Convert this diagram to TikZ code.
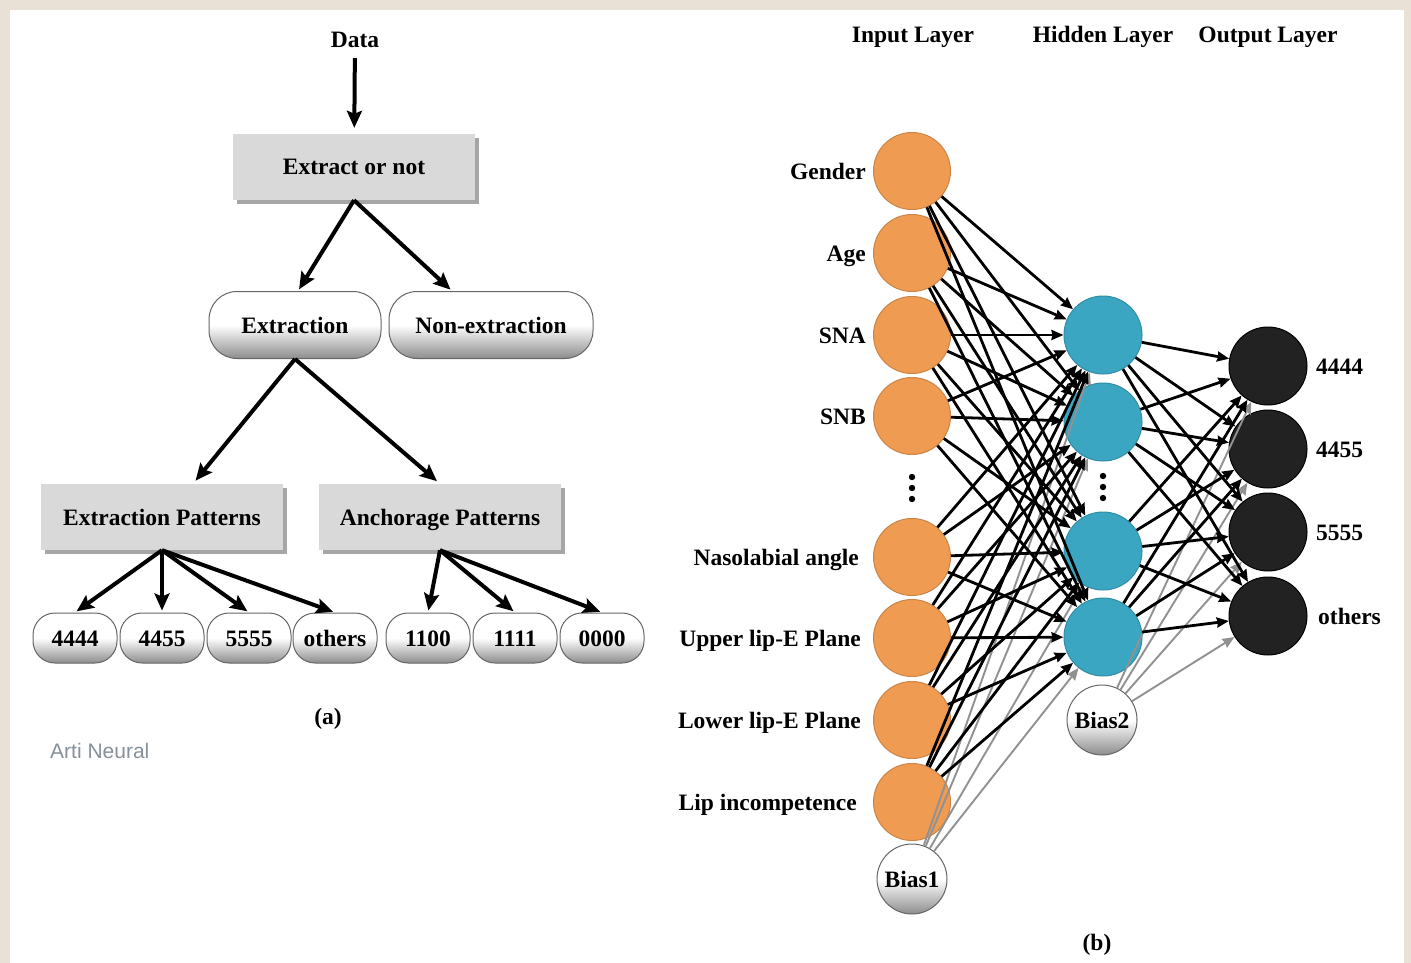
\documentclass[tikz,border=0pt]{standalone}
\usepackage{fontspec}
\setmainfont{Liberation Serif}
\newfontfamily\sansf{Liberation Sans}
\usetikzlibrary{arrows.meta,shadows,calc}
\definecolor{beige}{RGB}{234,225,214}
\definecolor{boxgray}{RGB}{217,217,217}
\definecolor{orng}{RGB}{240,155,82}
\definecolor{tealn}{RGB}{58,166,193}
\definecolor{darkn}{RGB}{34,34,34}
\definecolor{wm}{RGB}{135,145,155}
\definecolor{biasgray}{RGB}{145,145,145}
\tikzset{
  lbl/.style={font=\fontsize{23.5}{26}\selectfont\bfseries, inner sep=0pt, text height=20pt, text depth=4pt},
  graybox/.style={lbl, fill=boxgray, minimum width=242pt, minimum height=66pt,
    drop shadow={shadow xshift=4pt, shadow yshift=-4pt, opacity=0.35, fill=black}},
  pill/.style={lbl, draw=black!60, line width=1pt, rounded corners=28pt, minimum height=67pt,
    top color=white, bottom color=black!45, middle color=white},
  smallpill/.style={pill, rounded corners=22pt, minimum width=84pt, minimum height=50pt},
  bigarrow/.style={line width=4pt, -{Stealth[length=17pt,width=15pt,inset=3pt]}},
  innode/.style={circle, fill=orng, draw=orng!85!black, line width=1pt, minimum size=77pt, inner sep=0pt},
  hidnode/.style={circle, fill=tealn, draw=tealn!85!black, line width=1pt, minimum size=78pt, inner sep=0pt},
  outnode/.style={circle, fill=darkn, draw=black, line width=1pt, minimum size=78pt, inner sep=0pt},
  biasnode/.style={lbl, circle, draw=black!60, line width=1pt, minimum size=70pt,
    top color=white, bottom color=black!45, middle color=white},
  nnarrow/.style={line width=2.8pt, -{Stealth[length=12pt,width=10pt,inset=1pt]}},
  biasarrow/.style={line width=1.9pt, draw=biasgray, -{Stealth[length=12pt,width=10pt,inset=1pt]}, biasgray},
}
\begin{document}
\begin{tikzpicture}[x=1pt,y=-1pt]
\useasboundingbox (0,0) rectangle (1411,963);
\fill[beige] (0,0) rectangle (1411,963);
\fill[white] (10,10) rectangle (1404,963);

% ---------- panel (a) ----------
\node[lbl] (data) at (355,40) {Data};
\node[graybox] (extract) at (354,167) {Extract or not};
\node[pill, minimum width=172pt] (extraction) at (295,325) {Extraction};
\node[pill, minimum width=204pt] (nonext) at (491,325) {Non-extraction};
\node[graybox] (ep) at (162,517) {Extraction Patterns};
\node[graybox] (ap) at (440,517) {Anchorage Patterns};
\node[smallpill] (p1) at (75,638) {4444};
\node[smallpill] (p2) at (162,638) {4455};
\node[smallpill] (p3) at (249,638) {5555};
\node[smallpill] (p4) at (335,638) {others};
\node[smallpill] (p5) at (428,638) {1100};
\node[smallpill] (p6) at (515,638) {1111};
\node[smallpill] (p7) at (602,638) {0000};
\node[lbl] (capa) at (328,716) {(a)};
\node[font=\sansf\fontsize{21}{24}\selectfont, text=wm, inner sep=0pt, anchor=west] (wmark) at (50,751) {Arti Neural};

\draw[bigarrow, shorten <=6pt, shorten >=6pt] (data) -- (extract);
\draw[bigarrow, shorten >=2pt] (extract.south) -- ($(extraction.north)+(3,0)$);
\draw[bigarrow, shorten >=2pt] (extract.south) -- ($(nonext.north)+(-39,0)$);
\draw[bigarrow, shorten >=4pt] (extraction.south) -- ($(ep.north)+(31,0)$);
\draw[bigarrow, shorten >=4pt] (extraction.south) -- (ap.north);
\foreach \t in {p1,p2,p3,p4}{\draw[bigarrow, shorten >=2pt] (ep.south) -- (\t.north);}
\foreach \t in {p5,p6,p7}{\draw[bigarrow, shorten >=2pt] (ap.south) -- (\t.north);}

% ---------- panel (b) ----------
\node[lbl] (tin) at (913,35) {Input Layer};
\node[lbl] (thid) at (1103,35) {Hidden Layer};
\node[lbl] (tout) at (1268,35) {Output Layer};

\node[innode] (i1) at (912,171) {};
\node[innode] (i2) at (912,253) {};
\node[innode] (i3) at (912,335) {};
\node[innode] (i4) at (912,416) {};
\node[innode] (i5) at (912,557) {};
\node[innode] (i6) at (912,638) {};
\node[innode] (i7) at (912,720) {};
\node[innode] (i8) at (912,802) {};
\node[biasnode] (b1) at (912,879) {Bias1};

\node[hidnode] (h1) at (1103,335) {};
\node[hidnode] (h2) at (1103,422) {};
\node[hidnode] (h3) at (1103,551) {};
\node[hidnode] (h4) at (1103,637) {};
\node[biasnode] (b2) at (1102,720) {Bias2};

\node[outnode] (o1) at (1268,366) {};
\node[outnode] (o2) at (1268,449) {};
\node[outnode] (o3) at (1268,532) {};
\node[outnode] (o4) at (1268,616) {};

\foreach \y in {477,488,499}{\fill (912,\y) circle (3.2);}
\foreach \y in {476,487,498}{\fill (1103,\y) circle (3.2);}

\node[lbl, anchor=east] (l1) at (866,171) {Gender};
\node[lbl, anchor=east] (l2) at (866,253) {Age};
\node[lbl, anchor=east] (l3) at (866,335) {SNA};
\node[lbl, anchor=east] (l4) at (866,416) {SNB};
\node[lbl, anchor=east] (l5) at (859,557) {Nasolabial angle};
\node[lbl, anchor=east] (l6) at (861,638) {Upper lip-E Plane};
\node[lbl, anchor=east] (l7) at (861,720) {Lower lip-E Plane};
\node[lbl, anchor=east] (l8) at (857,802) {Lip incompetence};

\node[lbl, anchor=west] (r1) at (1316,366) {4444};
\node[lbl, anchor=west] (r2) at (1316,449) {4455};
\node[lbl, anchor=west] (r3) at (1316,532) {5555};
\node[lbl, anchor=west] (r4) at (1318,616) {others};

\node[lbl] (capb) at (1097,942) {(b)};

\foreach \j in {1,...,4}{\draw[biasarrow] (b1) -- (h\j);}
\foreach \k in {1,...,4}{\draw[biasarrow] (b2) -- (o\k);}
\foreach \i in {1,...,8}{\foreach \j in {1,...,4}{\draw[nnarrow] (i\i) -- (h\j);}}
\foreach \j in {1,...,4}{\foreach \k in {1,...,4}{\draw[nnarrow] (h\j) -- (o\k);}}
\end{tikzpicture}
\end{document}
